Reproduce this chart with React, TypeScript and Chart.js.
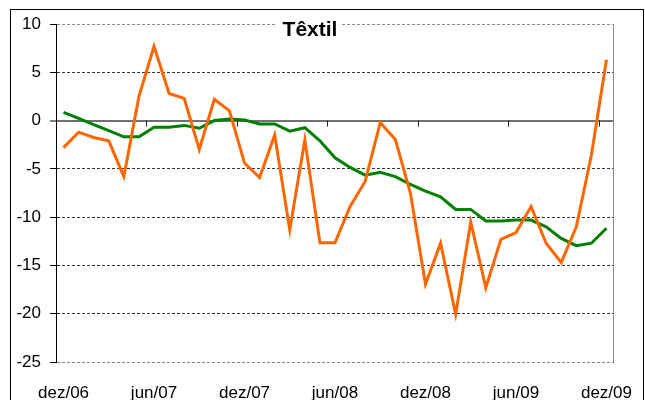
import { useEffect, useRef } from "react";
import { Chart, registerables } from "chart.js";

Chart.register(...registerables);

const categories = [
  "dez/06", "jan/07", "fev/07", "mar/07", "abr/07", "mai/07", "jun/07", "jul/07", "ago/07", "set/07", "out/07", "nov/07",
  "dez/07", "jan/08", "fev/08", "mar/08", "abr/08", "mai/08", "jun/08", "jul/08", "ago/08", "set/08", "out/08", "nov/08",
  "dez/08", "jan/09", "fev/09", "mar/09", "abr/09", "mai/09", "jun/09", "jul/09", "ago/09", "set/09", "out/09", "nov/09",
  "dez/09",
];

const shownTickLabels = ["dez/06", "jun/07", "dez/07", "jun/08", "dez/08", "jun/09", "dez/09"];

const monthlySeries = [
  -2.8, -1.2, -1.75, -2.1, -5.8, 2.5, 7.7, 2.8, 2.3, -3.0, 2.2, 1.0,
  -4.4, -5.9, -1.5, -11.3, -2.0, -12.65, -12.65, -8.9, -6.3, -0.2, -1.95, -7.5,
  -16.95, -12.7, -20.05, -10.5, -17.3, -12.3, -11.6, -8.9, -12.7, -14.7, -11.0, -3.6,
  6.3,
];

const trendSeries = [
  0.85, 0.22, -0.42, -1.05, -1.68, -1.68, -0.7, -0.7, -0.5, -0.8, 0.0, 0.15,
  0.05, -0.35, -0.35, -1.1, -0.74, -2.1, -3.85, -4.85, -5.65, -5.35, -5.8, -6.6,
  -7.3, -7.9, -9.2, -9.2, -10.4, -10.4, -10.3, -10.3, -11.0, -12.2, -12.95, -12.7,
  -11.15,
];

const yTicks = { min: -25, max: 10, step: 5 };
const chartTitle = "Têxtil";

const FONT = '"Liberation Sans", Arial, sans-serif';

export default function App() {
  const canvasRef = useRef<HTMLCanvasElement | null>(null);

  useEffect(() => {
    document.body.style.margin = "0";
    const canvas = canvasRef.current;
    if (!canvas) return;

    const framePlugin = {
      id: "frame",
      beforeDraw(chart: any) {
        const { ctx } = chart;
        ctx.save();
        ctx.fillStyle = "#ffffff";
        ctx.fillRect(0, 0, chart.width, chart.height);
        ctx.strokeStyle = "#000000";
        ctx.lineWidth = 1;
        ctx.strokeRect(10.5, 9.5, 633, 410);
        ctx.restore();
      },
      beforeDatasetsDraw(chart: any) {
        const { ctx, chartArea, scales } = chart;
        const x = scales.x;
        const y = scales.y;
        ctx.save();
        ctx.strokeStyle = "#8a8a8a";
        ctx.lineWidth = 1;
        ctx.beginPath();
        ctx.moveTo(Math.round(chartArea.right) - 0.5, chartArea.top);
        ctx.lineTo(Math.round(chartArea.right) - 0.5, chartArea.bottom);
        ctx.stroke();
        const y0 = y.getPixelForValue(0);
        ctx.strokeStyle = "#222";
        ctx.lineWidth = 1;
        for (let i = 6; i < categories.length; i += 6) {
          const px = (x.getPixelForValue(i - 1) + x.getPixelForValue(i)) / 2;
          const rx = Math.round(px) + 0.5;
          ctx.beginPath();
          ctx.moveTo(rx, y0);
          ctx.lineTo(rx, y0 + 6);
          ctx.stroke();
        }
        ctx.restore();
      },
      afterDatasetsDraw(chart: any) {
        const { ctx } = chart;
        ctx.save();
        ctx.font = `bold 21px ${FONT}`;
        const w = ctx.measureText(chartTitle).width;
        const cx = 310;
        const left = cx - w / 2;
        ctx.fillStyle = "#ffffff";
        ctx.fillRect(left - 6, 15, w + 10, 25);
        ctx.fillStyle = "#000000";
        ctx.textBaseline = "alphabetic";
        ctx.textAlign = "left";
        ctx.fillText(chartTitle, left, 36);
        ctx.restore();
      },
    };

    const chart = new Chart(canvas, {
      type: "line",
      data: {
        labels: categories,
        datasets: [
          {
            label: "mensal",
            data: monthlySeries,
            borderColor: "#ff6600",
            borderWidth: 3,
            pointRadius: 0,
            tension: 0,
            fill: false,
          },
          {
            label: "tendência",
            data: trendSeries,
            borderColor: "#008000",
            borderWidth: 3,
            pointRadius: 0,
            tension: 0,
            fill: false,
          },
        ],
      },
      options: {
        responsive: false,
        animation: false,
        layout: { padding: { left: 0, right: 31, top: 24, bottom: 0 } },
        plugins: {
          legend: { display: false },
          title: { display: false },
          tooltip: { enabled: false },
        },
        scales: {
          x: {
            type: "category",
            offset: true,
            grid: { display: false, drawTicks: true, tickLength: 21 },
            border: { display: false },
            afterFit(scale: any) {
              scale.height = 38;
            },
            ticks: {
              autoSkip: false,
              maxRotation: 0,
              minRotation: 0,
              padding: 0,
              color: "#000",
              font: { family: FONT, size: 17 },
              callback(_v: any, i: number) {
                const l = categories[i];
                return shownTickLabels.includes(l) ? l : "";
              },
            },
          },
          y: {
            min: yTicks.min,
            max: yTicks.max,
            afterFit(scale: any) {
              scale.width = 56;
            },
            ticks: {
              stepSize: yTicks.step,
              padding: 9,
              color: "#000",
              font: { family: FONT, size: 17 },
            },
            grid: {
              color: (c: any) => {
                const v = c.tick?.value;
                if (v === 0) return "#707070";
                if (v === yTicks.max || v === yTicks.min) return "#8a8a8a";
                return "#333333";
              },
              lineWidth: (c: any) => (c.tick?.value === 0 ? 2 : 1),
              tickColor: "#000",
              tickLength: 6,
              tickWidth: 1,
            },
            border: {
              display: true,
              color: "#000",
              width: 1,
              dash: (c: any) => (c.tick && c.tick.value !== 0 ? [3, 2] : []),
            },
          },
        },
      },
      plugins: [framePlugin],
    });

    return () => {
      chart.destroy();
    };
  }, []);

  return (
    <div style={{ width: 645, height: 400 }}>
      <canvas ref={canvasRef} width={645} height={400} style={{ display: "block" }} />
    </div>
  );
}
